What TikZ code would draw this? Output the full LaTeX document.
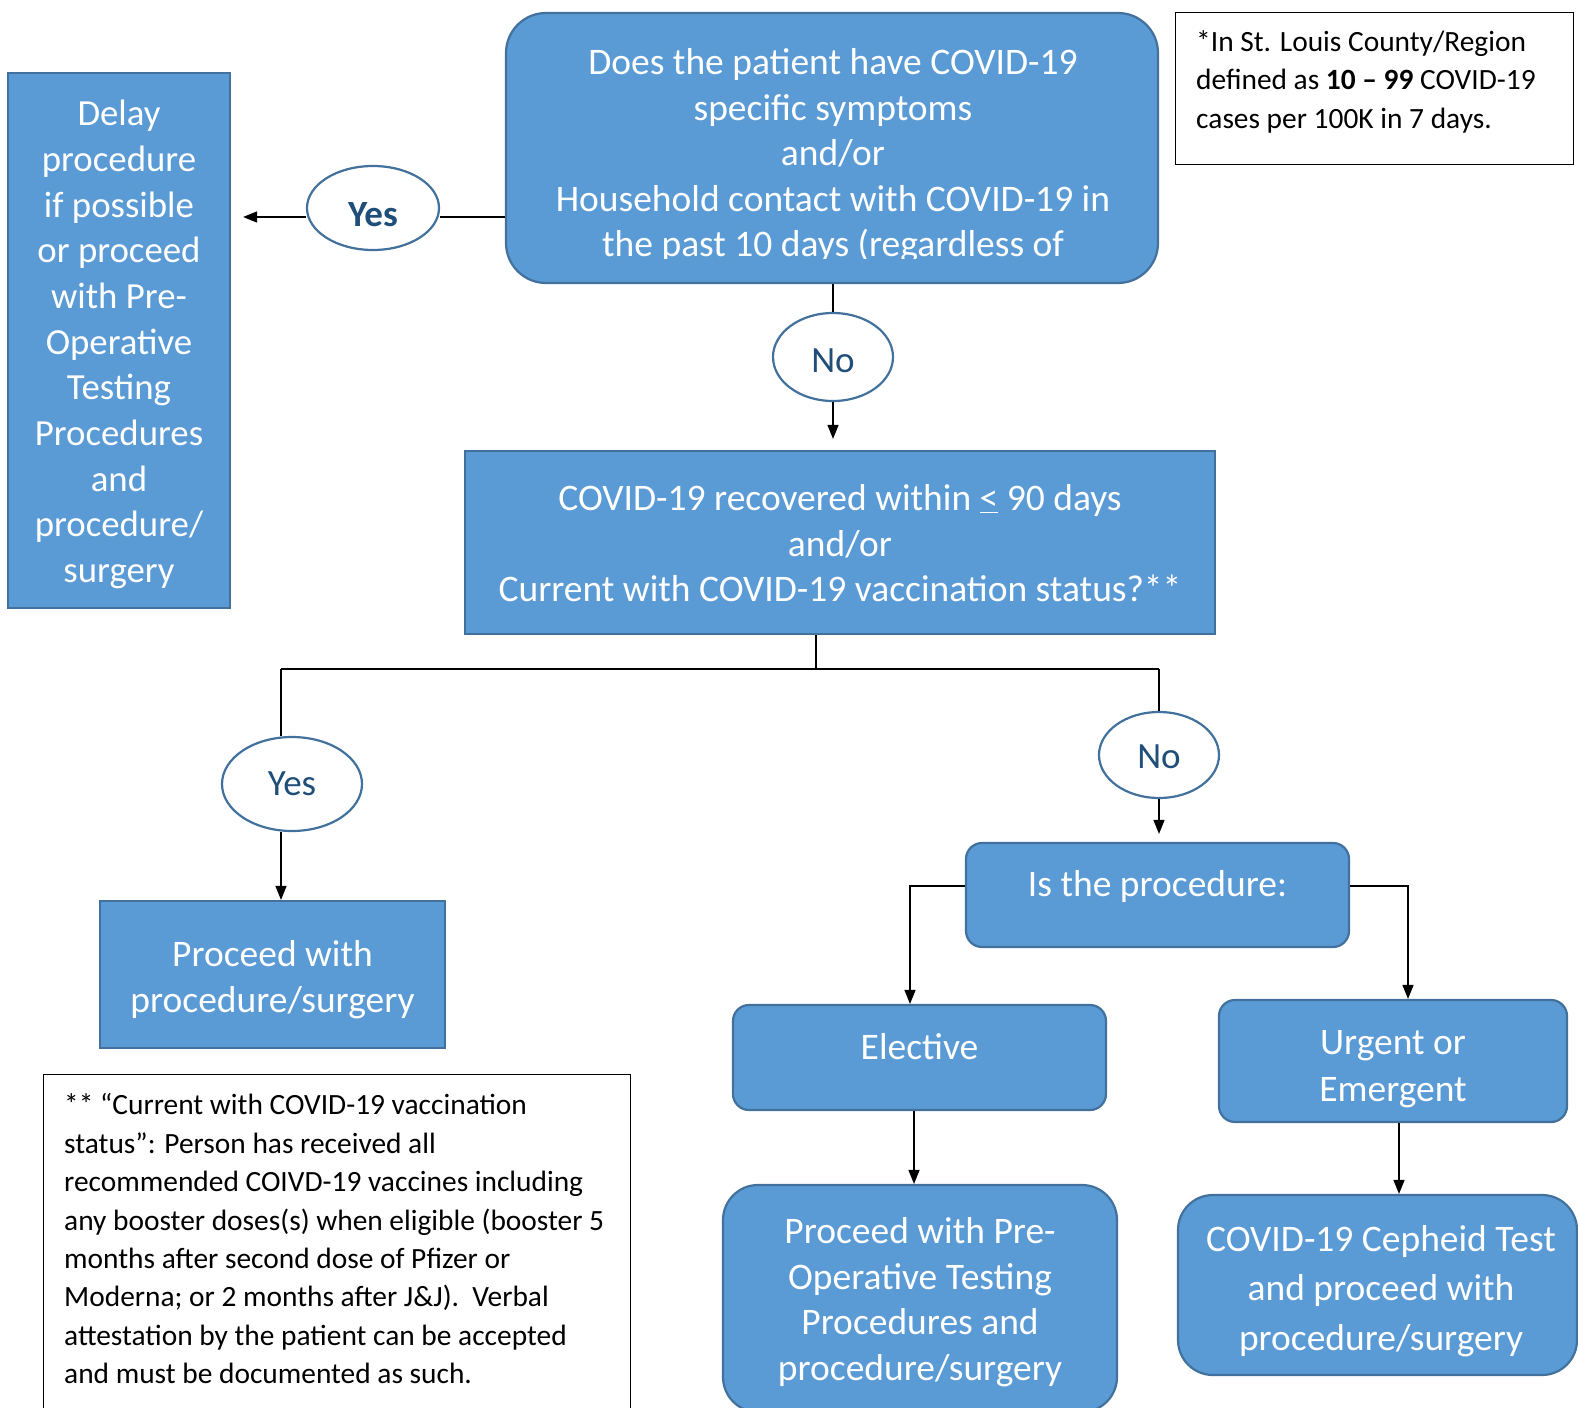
\documentclass[tikz,border=0pt]{standalone}
\usepackage{fontspec}
\setmainfont{Carlito}
\usetikzlibrary{arrows.meta}
\usetikzlibrary{shapes.geometric}
\definecolor{boxfill}{HTML}{5B9BD5}
\definecolor{boxline}{HTML}{41719C}
\definecolor{ovaltext}{HTML}{1F4E79}

\begin{document}
\begin{tikzpicture}[x=1pt, y=-1pt,
		box/.style={draw=boxline, line width=2.2pt, fill=boxfill, inner sep=0pt},
		rbox/.style={box, rounded corners=16pt},
		boxtext/.style={text=white, align=center, inner sep=0pt, font=\fontsize{37.5}{45.5}\selectfont},
		oval/.style={ellipse, draw=boxline, line width=2.2pt, fill=white, text=ovaltext, inner sep=0pt, font=\fontsize{37}{42}\selectfont},
		notebox/.style={draw=black, line width=1.4pt, anchor=north west, inner sep=0pt},
		notetext/.style={align=left, anchor=north west, inner sep=0pt, font=\fontsize{29.4}{38.4}\selectfont},
		link/.style={line width=1.4pt},
		arr/.style={link, -{Triangle[length=14pt,width=11pt]}}]
				
				\useasboundingbox (0,0) rectangle (1578,1407);
				
				\node[rbox, rounded corners=40pt, minimum width=652pt, minimum height=270pt] (Q1) at (832,148) {};
				\begin{scope}
					\clip (Q1.north west) rectangle ([yshift=26pt]Q1.south east);
					\node[boxtext] (Q1T) at (833,156) {Does the patient have COVID-19\\specific symptoms\\and/or\\Household contact with COVID-19 in\\the past 10 days (regardless of};
				\end{scope}
				
				\node[notebox, minimum width=398pt, minimum height=152pt] (S1) at (1175,12) {};
				\node[notetext] (S1T) at (1196,30.5) {*In St. Louis County/Region\\defined as \textbf{10 -- 99} COVID-19\\cases per 100K in 7 days.};
				
				\node[box, minimum width=222pt, minimum height=535pt] (D1) at (119,340.5) {};
				\node[boxtext, font=\fontsize{36.8}{45.7}\selectfont] (D1T) at (119,344.5) {Delay\\procedure\\if possible\\or proceed\\with Pre-\\Operative\\Testing\\Procedures\\and\\procedure/\\surgery};
				
				\node[oval, minimum width=132pt, minimum height=84pt, text height=38pt, font=\bfseries\fontsize{37}{42}\selectfont] (Y1) at (373,208) {Yes};
				\node[oval, minimum width=120pt, minimum height=88pt, text height=32pt] (N1) at (833,357) {No};
				
				\node[box, minimum width=750pt, minimum height=183pt] (M1) at (840,542.5) {};
				\node[boxtext] (M1T) at (840,543.5) {COVID-19 recovered within \underline{<} 90 days\\and/or\\Current with COVID-19 vaccination status?**};
				
				\draw[link] ([yshift=-9pt]Q1.west |- Y1) -- ([yshift=-9pt]Y1.east);
				\draw[arr] ([yshift=-9pt]Y1.west) -- ([xshift=12pt,yshift=-9pt]D1.east |- Y1);
				\draw[link] (Q1.south -| N1) -- (N1.north);
				\draw[arr] (N1.south) -- ([yshift=11pt]N1 |- M1.north);
				
				\coordinate (B0) at (816,669);
				\coordinate (BL) at (281,669);
				\coordinate (BR) at (1159,669);
				\draw[link] (M1.south -| B0) -- (B0);
				\draw[link] (BL) -- (BR);
				
				\node[oval, minimum width=140pt, minimum height=94pt] (Y2) at (292,784) {Yes};
				\node[oval, minimum width=120pt, minimum height=86pt, text height=27pt] (N2) at (1159,755) {No};
				
				\draw[link] (BL) -- (BL |- Y2.north);
				\draw[link] (BR) -- (N2.north);
				
				\node[box, minimum width=345pt, minimum height=147pt] (P1) at (272.5,974.5) {};
				\node[boxtext] (P1T) at (272.5,979.5) {Proceed with\\procedure/surgery};
				\draw[arr] (BL |- Y2.south) -- (BL |- P1.north);
				
				\node[rbox, minimum width=383pt, minimum height=104pt] (P2) at (1157.5,895) {};
				\node[boxtext] (P2T) at (1157.5,886) {Is the procedure:};
				\draw[arr] (N2.south) -- ([yshift=8pt]N2 |- P2.north);
				
				\node[rbox, minimum width=373pt, minimum height=105pt] (E1) at (919.5,1057.5) {};
				\node[boxtext] (E1T) at (919.5,1047) {Elective};
				\node[rbox, minimum width=348pt, minimum height=122pt] (U1) at (1393,1061) {};
				\node[boxtext, font=\fontsize{37.5}{47.3}\selectfont] (U1T) at (1393,1069) {Urgent or\\Emergent};
				
				\draw[arr] (P2.west |- P2T) -| ([xshift=-9.5pt]E1.north);
				\draw[arr] (P2.east |- P2T) -| ([xshift=15pt]U1.north);
				
				\node[rbox, rounded corners=35pt, minimum width=394pt, minimum height=227pt] (R1) at (920,1298.5) {};
				\node[boxtext] (R1T) at (920,1302) {Proceed with Pre-\\Operative Testing\\Procedures and\\procedure/surgery};
				\node[rbox, rounded corners=35pt, minimum width=399pt, minimum height=180pt] (R2) at (1377.5,1285) {};
				\node[boxtext, font=\fontsize{37.5}{49.3}\selectfont] (R2T) at (1381,1291) {COVID-19 Cepheid Test\\and proceed with\\procedure/surgery};
				
				\draw[arr] ([xshift=-5.5pt]E1.south) -- ([xshift=-6pt]R1.north);
				\draw[arr] ([xshift=6pt]U1.south) -- ([xshift=21.5pt]R2.north);
				
				\node[notebox, minimum width=587pt, minimum height=366pt] (F1) at (43,1074) {};
				\node[notetext] (F1T) at (64,1093.5) {** “Current with COVID-19 vaccination\\status”: Person has received all\\recommended COIVD-19 vaccines including\\any booster doses(s) when eligible (booster 5\\months after second dose of Pfizer or\\Moderna; or 2 months after J\&J).\ \ Verbal\\attestation by the patient can be accepted\\and must be documented as such.};
				
			\end{tikzpicture}
\end{document}
